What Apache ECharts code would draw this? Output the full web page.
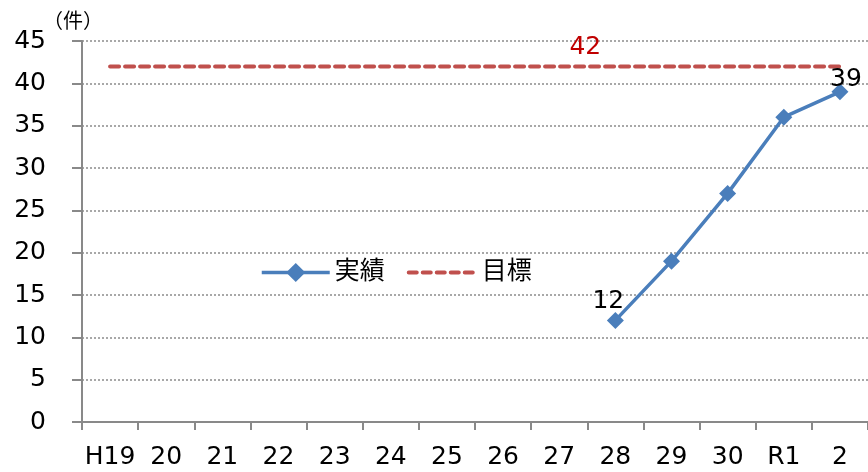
<!DOCTYPE html>
<html>
<head>
<meta charset="utf-8">
<script src="https://cdn.jsdelivr.net/npm/echarts@6/dist/echarts.min.js"></script>
<style>html,body{margin:0;padding:0;background:#fff}#c{width:868px;height:472px}</style>
</head>
<body>
<div id="c"></div>
<script>
const categories = ['H19','20','21','22','23','24','25','26','27','28','29','30','R1','2'];
const actual = [null,null,null,null,null,null,null,null,null,12,19,27,36,39];
const target = [42,42,42,42,42,42,42,42,42,42,42,42,42,42];
const yTicks = {min:0, max:45, interval:5};
const unitLabel = '（件）';

const FONT = "'DejaVu Sans', 'Noto Sans CJK JP', sans-serif";
const CJK = "'Noto Sans CJK JP', sans-serif";
const FS = 25;
const chart = echarts.init(document.getElementById('c'));

const actualData = actual.map((v, i) => {
  if (v === null) return null;
  if (i === 9) return {value: v, label: {show: true, position: 'top', distance: 5, offset: [-7, 7]}};
  if (i === actual.length - 1) return {value: v, label: {show: true, position: 'top', distance: 3, offset: [6, 12]}};
  return v;
});

chart.setOption({
  animation: false,
  title: {text: unitLabel, left: 38, top: 5, textStyle: {fontFamily: CJK, fontSize: 20, fontWeight: 'normal', color: '#000'}},
  grid: {left: 82, right: -6, top: 41, bottom: 50},
  legend: {
    left: 255, top: 255, itemWidth: 68, itemHeight: 24, itemGap: 22,
    textStyle: {fontFamily: FONT, fontSize: FS, color: '#000'},
    data: [
      {name: '実績', lineStyle: {width: 3.5, color: '#4a7ebb'}},
      {name: '目標', itemStyle: {opacity: 0}, lineStyle: {width: 4, color: '#c0504d', type: [8, 6]}}
    ]
  },
  xAxis: {
    type: 'category', data: categories, boundaryGap: true,
    axisLine: {lineStyle: {color: '#898989', width: 2}},
    axisTick: {show: true, length: 8, lineStyle: {color: '#898989', width: 2}},
    axisLabel: {fontFamily: FONT, fontSize: FS, color: '#000', margin: 23, interval: 0},
    splitLine: {show: false}
  },
  yAxis: {
    type: 'value', min: yTicks.min, max: yTicks.max, interval: yTicks.interval,
    axisLine: {show: true, lineStyle: {color: '#898989', width: 2}},
    axisTick: {show: true, length: 10, lineStyle: {color: '#898989', width: 2}},
    axisLabel: {fontFamily: FONT, fontSize: FS, color: '#000', margin: 36},
    splitLine: {show: true, lineStyle: {color: '#8c8c8c', width: 1.5, type: [2, 2]}}
  },
  series: [
    {
      name: '実績', type: 'line', data: actualData, connectNulls: false,
      symbol: 'diamond', symbolSize: 17,
      itemStyle: {color: '#4a7ebb'},
      lineStyle: {color: '#4a7ebb', width: 3.5},
      label: {show: false, fontFamily: FONT, fontSize: FS, color: '#000'},
      z: 3
    },
    {
      name: '目標', type: 'line', data: target,
      symbol: 'none',
      itemStyle: {color: '#c0504d'},
      lineStyle: {color: '#c0504d', width: 4, type: [9, 6], cap: 'round'},
      markPoint: {
        symbol: 'circle', symbolSize: 0,
        data: [{coord: [9, target[9]], value: target[9]}],
        label: {show: true, position: 'top', distance: 12, offset: [-30, 6], fontFamily: FONT, fontSize: FS, color: '#c00000'}
      },
      z: 2
    }
  ]
});
</script>
</body>
</html>
